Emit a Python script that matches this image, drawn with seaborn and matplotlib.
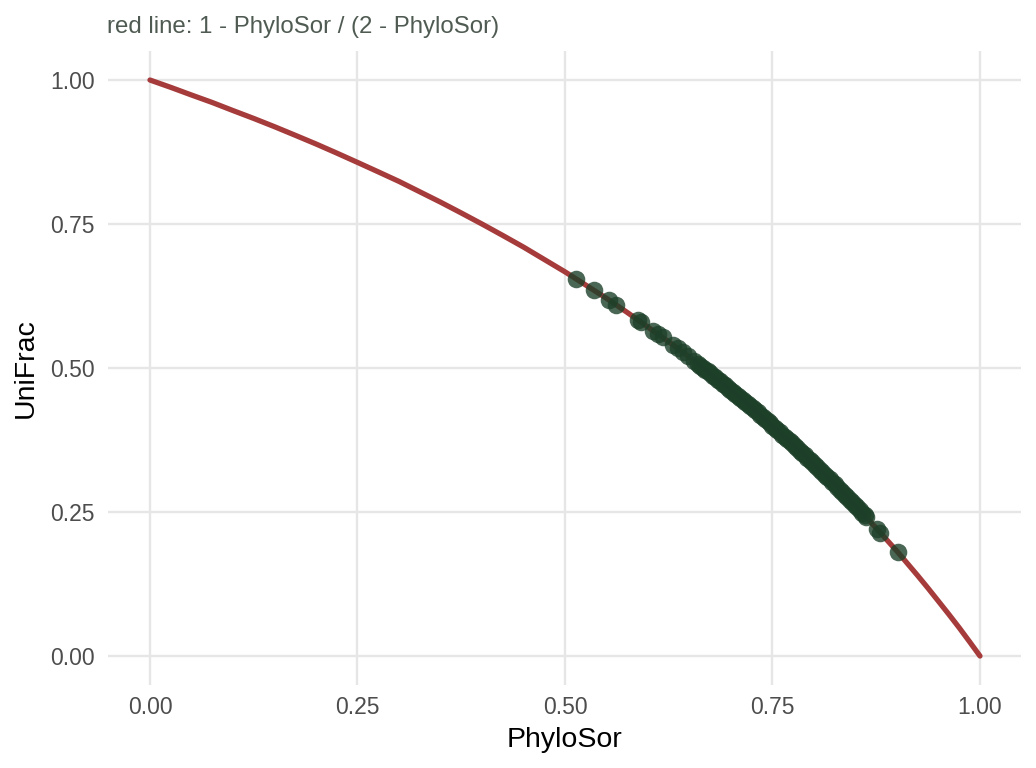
import matplotlib
matplotlib.use("Agg")
import numpy as np
import pandas as pd
import seaborn as sns
from matplotlib import pyplot as plt

# red reference curve
curve_x = [0.0, 0.025, 0.05, 0.075, 0.10, 0.125, 0.15, 0.175, 0.20, 0.225,
           0.25, 0.275, 0.30, 0.325, 0.35, 0.375, 0.40, 0.425, 0.45, 0.475,
           0.50, 0.525, 0.55, 0.575, 0.60, 0.625, 0.65, 0.675, 0.70, 0.725,
           0.75, 0.775, 0.80, 0.825, 0.85, 0.875, 0.90, 0.925, 0.9375,
           0.95, 0.9625, 0.975, 0.9875, 1.0]
curve_y = [1.000, 0.9873, 0.974, 0.961, 0.947, 0.9333, 0.919, 0.9041,
           0.889, 0.8732, 0.857, 0.8406, 0.824, 0.806, 0.788, 0.7692, 0.750,
           0.7302, 0.710, 0.6885, 0.667, 0.6441, 0.621, 0.5965, 0.571,
           0.5455, 0.519, 0.4906, 0.4615, 0.4314, 0.400, 0.3673, 0.333,
           0.2979, 0.261, 0.222, 0.182, 0.1395, 0.1176, 0.095, 0.0723,
           0.049, 0.0247, 0.0]

# sample points (PhyloSor vs UniFrac)
phylosor = [0.513, 0.535, 0.553, 0.561, 0.588, 0.592, 0.606, 0.612, 0.618,
            0.630, 0.636, 0.642, 0.648, 0.655, 0.660, 0.663, 0.666, 0.669,
            0.672, 0.675, 0.678, 0.681, 0.684, 0.687, 0.690, 0.693, 0.696,
            0.699, 0.702, 0.705, 0.708, 0.711, 0.714, 0.717, 0.720, 0.723,
            0.726, 0.729, 0.732, 0.735, 0.738, 0.741, 0.744, 0.747, 0.750,
            0.753, 0.756, 0.759, 0.762, 0.765, 0.768, 0.771, 0.774, 0.777,
            0.780, 0.783, 0.786, 0.789, 0.792, 0.795, 0.798, 0.801, 0.804,
            0.807, 0.810, 0.813, 0.816, 0.819, 0.822, 0.825, 0.828, 0.831,
            0.834, 0.837, 0.840, 0.843, 0.846, 0.849, 0.852, 0.855, 0.858,
            0.861, 0.863, 0.876, 0.880, 0.901]
unifrac = [0.655, 0.635, 0.618, 0.610, 0.584, 0.580, 0.565, 0.559, 0.553,
           0.540, 0.534, 0.527, 0.521, 0.513, 0.5075, 0.5041, 0.5007,
           0.4974, 0.494, 0.4906, 0.487, 0.4837, 0.480, 0.4768, 0.473,
           0.4698, 0.466, 0.4627, 0.459, 0.4556, 0.452, 0.4484, 0.445,
           0.4412, 0.4375, 0.4338, 0.430, 0.4264, 0.423, 0.419, 0.415,
           0.4114, 0.408, 0.4038, 0.400, 0.3962, 0.392, 0.3884, 0.3845,
           0.3806, 0.377, 0.3727, 0.369, 0.3647, 0.361, 0.3566, 0.3525,
           0.3485, 0.344, 0.3402, 0.336, 0.3319, 0.328, 0.3236, 0.319,
           0.3151, 0.311, 0.3065, 0.302, 0.2979, 0.2935, 0.2891, 0.285,
           0.2803, 0.276, 0.2714, 0.267, 0.2624, 0.258, 0.2533, 0.249,
           0.2441, 0.241, 0.2206, 0.214, 0.180]

ticks = [0.0, 0.25, 0.5, 0.75, 1.0]
tick_labels = ["0.00", "0.25", "0.50", "0.75", "1.00"]

sns.set_theme(style="whitegrid")
plt.rcParams["font.family"] = ["Liberation Sans", "DejaVu Sans"]

fig = plt.figure(figsize=(10.36, 7.68), dpi=100)
ax = fig.add_axes([0.1047, 0.1083, 0.8813, 0.825])

curve = pd.DataFrame({"x": curve_x, "y": curve_y})
points = pd.DataFrame({"PhyloSor": phylosor, "UniFrac": unifrac})

sns.lineplot(data=curve, x="x", y="y", ax=ax, color="#a63b3b", linewidth=3.8,
             sort=True, zorder=2)
sns.scatterplot(data=points, x="PhyloSor", y="UniFrac", ax=ax, s=160,
                color="#1d4029", alpha=0.8, linewidth=0, zorder=3)

ax.set_xlim(-0.05, 1.05)
ax.set_ylim(-0.05, 1.05)
ax.set_xticks(ticks)
ax.set_xticklabels(tick_labels)
ax.set_yticks(ticks)
ax.set_yticklabels(tick_labels)
ax.grid(True, color="#e6e6e6", linewidth=1.7)
ax.set_facecolor("white")
for s in ax.spines.values():
    s.set_visible(False)
ax.tick_params(axis="both", length=0, labelsize=16.5, labelcolor="#4d4d4d")
ax.tick_params(axis="x", pad=8)
ax.tick_params(axis="y", pad=10)
ax.set_xlabel("PhyloSor", fontsize=20.5, color="black", labelpad=6)
ax.set_ylabel("UniFrac", fontsize=20.5, color="black", labelpad=8)

fig.text(0.1035, 0.965, "red line: 1 - PhyloSor / (2 - PhyloSor)",
         fontsize=17.3, color="#4f5b52", ha="left", va="center")

fig.savefig("out.png", dpi=100, facecolor="white")
